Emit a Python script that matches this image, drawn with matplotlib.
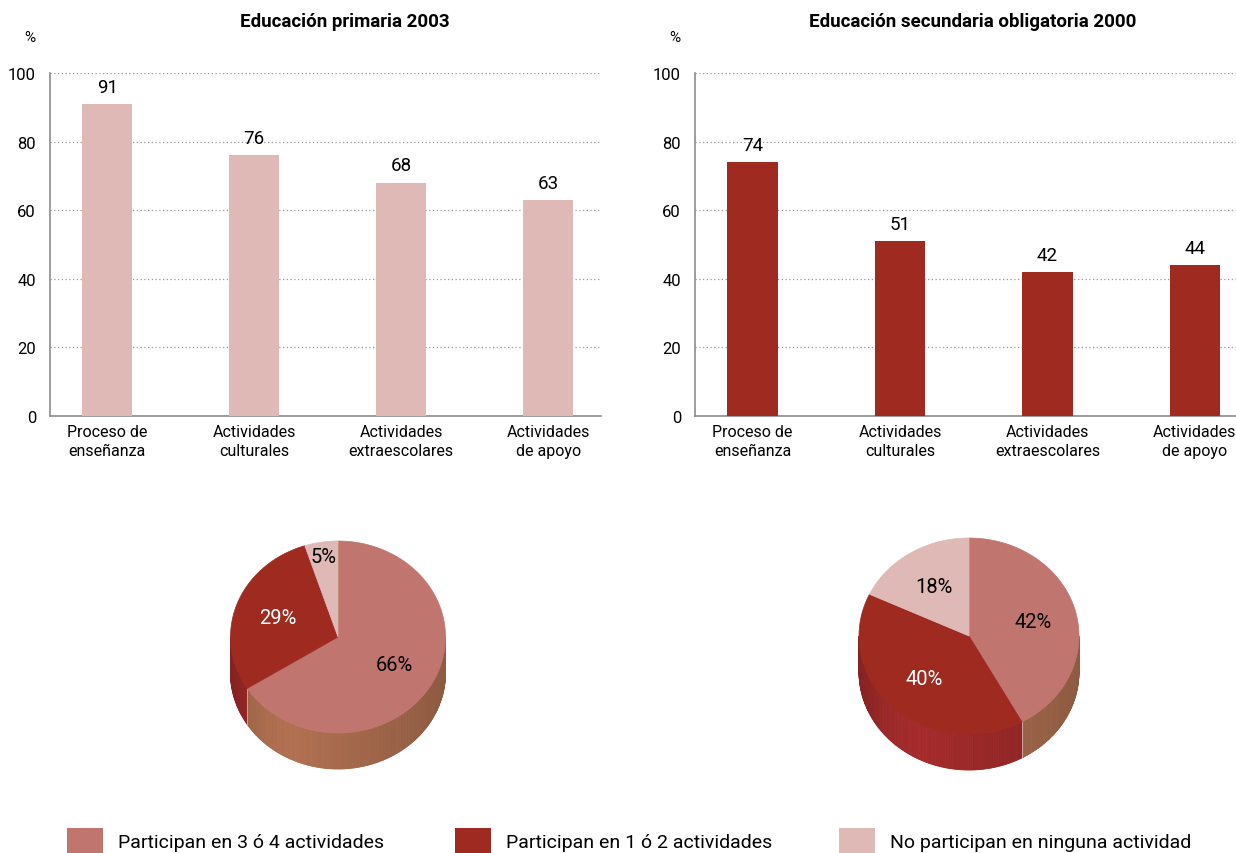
import numpy as np
import matplotlib
matplotlib.use('Agg')
import matplotlib.pyplot as plt
from matplotlib.collections import PolyCollection
from matplotlib.patches import Polygon, Rectangle
from matplotlib.colors import to_rgb

plt.rcParams['font.family'] = ['Roboto', 'DejaVu Sans']

# data
categories = ['Proceso de\nenseñanza', 'Actividades\nculturales',
              'Actividades\nextraescolares', 'Actividades\nde apoyo']
primaria = [91, 76, 68, 63]
secundaria = [74, 51, 42, 44]
title_prim = 'Educación primaria 2003'
title_sec = 'Educación secundaria obligatoria 2000'

pie_labels = ['Participan en 3 ó 4 actividades', 'Participan en 1 ó 2 actividades',
              'No participan en ninguna actividad']
pie_prim = [66, 29, 5]
pie_sec = [42, 40, 18]

c_salmon = '#c1756f'
c_dark = '#9e2a20'
c_pink = '#dfb9b6'
pie_colors = [c_salmon, c_dark, c_pink]
side_colors = ['#b07050', '#a52a2a', '#c9a09b']

fig = plt.figure(figsize=(12.36, 8.54), dpi=100)
W, H = 1236, 854

# background axes in pixel units for pies and legend
bg = fig.add_axes([0, 0, 1, 1])
bg.set_xlim(0, W)
bg.set_ylim(H, 0)
bg.axis('off')


def bar_panel(left_px, right_px, values, color, title, title_x):
    ax = fig.add_axes([left_px / W, (H - 417) / H, (right_px - left_px) / W, 343 / H])
    x = np.arange(len(values))
    ax.bar(x, values, width=0.34, color=color, zorder=3)
    ax.set_xlim(-0.39, 3.36)
    ax.set_ylim(0, 100)
    ax.set_yticks([0, 20, 40, 60, 80, 100])
    ax.set_xticks(x)
    ax.set_xticklabels(categories, fontsize=11.5, linespacing=1.3)
    ax.tick_params(axis='y', labelsize=12, length=0, pad=10)
    ax.tick_params(axis='x', length=0, pad=6)
    ax.grid(axis='y', linestyle=(0, (1, 2)), color='#999999', linewidth=0.9, zorder=0)
    for s in ['top', 'right']:
        ax.spines[s].set_visible(False)
    for s in ['left', 'bottom']:
        ax.spines[s].set_color('#8c8c8c')
        ax.spines[s].set_linewidth(1.2)
    for xi, v in zip(x, values):
        ax.annotate(str(v), (xi, v), xytext=(0, 6), textcoords='offset points',
                    ha='center', va='bottom', fontsize=13.5)
    fig.text(title_x / W, 1 - 22 / H, title, ha='center', va='center',
             fontsize=13.5, fontweight='bold')
    fig.text((left_px - 20) / W, 1 - 38 / H, '%', ha='center', va='center', fontsize=11)
    return ax


bar_panel(50, 601, primaria, c_pink, title_prim, 345)
bar_panel(695, 1248, secundaria, c_dark, title_sec, 973)


def shade(u):
    if u < -0.4:
        return 1 - 0.55 * (u + 0.4) ** 2
    return 1 - 0.14 * (u + 0.4)


def pie3d(cx, cy, a, b, depth, values, text_colors):
    total = float(sum(values))
    start = 90.0
    polys, cols = [], []
    for i, v in enumerate(values):
        end = start - 360.0 * v / total
        # side wall (front half: angles between -180 and 0)
        lo, hi = max(end, -180.0), min(start, 0.0)
        if hi > lo:
            n = max(2, int((hi - lo) / 1.0))
            ts = np.radians(np.linspace(lo, hi, n + 1))
            base = np.array(to_rgb(side_colors[i]))
            for t1, t2 in zip(ts[:-1], ts[1:]):
                x1, x2 = cx + a * np.cos(t1), cx + a * np.cos(t2)
                y1, y2 = cy - b * np.sin(t1), cy - b * np.sin(t2)
                polys.append([(x1, y1), (x2, y2), (x2, y2 + depth), (x1, y1 + depth)])
                f = shade(np.cos((t1 + t2) / 2))
                cols.append(np.clip(base * f, 0, 1))
        # top face
        ts = np.radians(np.linspace(end, start, 200))
        pts = [(cx, cy)] + [(cx + a * np.cos(t), cy - b * np.sin(t)) for t in ts]
        bg.add_patch(Polygon(pts, closed=True, facecolor=pie_colors[i],
                             edgecolor=pie_colors[i], linewidth=0.5, zorder=3))
        # label
        mid = np.radians((start + end) / 2)
        r = 0.85 if v / total < 0.1 else 0.6
        bg.text(cx + r * a * np.cos(mid), cy - r * b * np.sin(mid), f'{v}%',
                ha='center', va='center', fontsize=14.5, color=text_colors[i], zorder=4)
        # boundary line on the side
        if -180 < end < 0:
            te = np.radians(end)
            xe, ye = cx + a * np.cos(te), cy - b * np.sin(te)
            bg.plot([xe, xe], [ye, ye + depth], color='white', linewidth=0.6, alpha=0.6, zorder=2)
        start = end
    bg.add_collection(PolyCollection(polys, facecolors=cols, edgecolors=cols,
                                     linewidths=0.6, zorder=1))


pie3d(338, 638, 107.5, 96, 36, pie_prim, ['black', 'white', 'black'])
pie3d(969, 637, 110, 98, 36, pie_sec, ['black', 'white', 'black'])

# legend
leg_x = [67, 455, 839]
for lx, lab, col in zip(leg_x, pie_labels, pie_colors):
    bg.add_patch(Rectangle((lx, 829), 36, 25, facecolor=col, edgecolor='none'))
    bg.text(lx + 51, 843, lab, ha='left', va='center', fontsize=14)

fig.savefig('out.png', dpi=100)
